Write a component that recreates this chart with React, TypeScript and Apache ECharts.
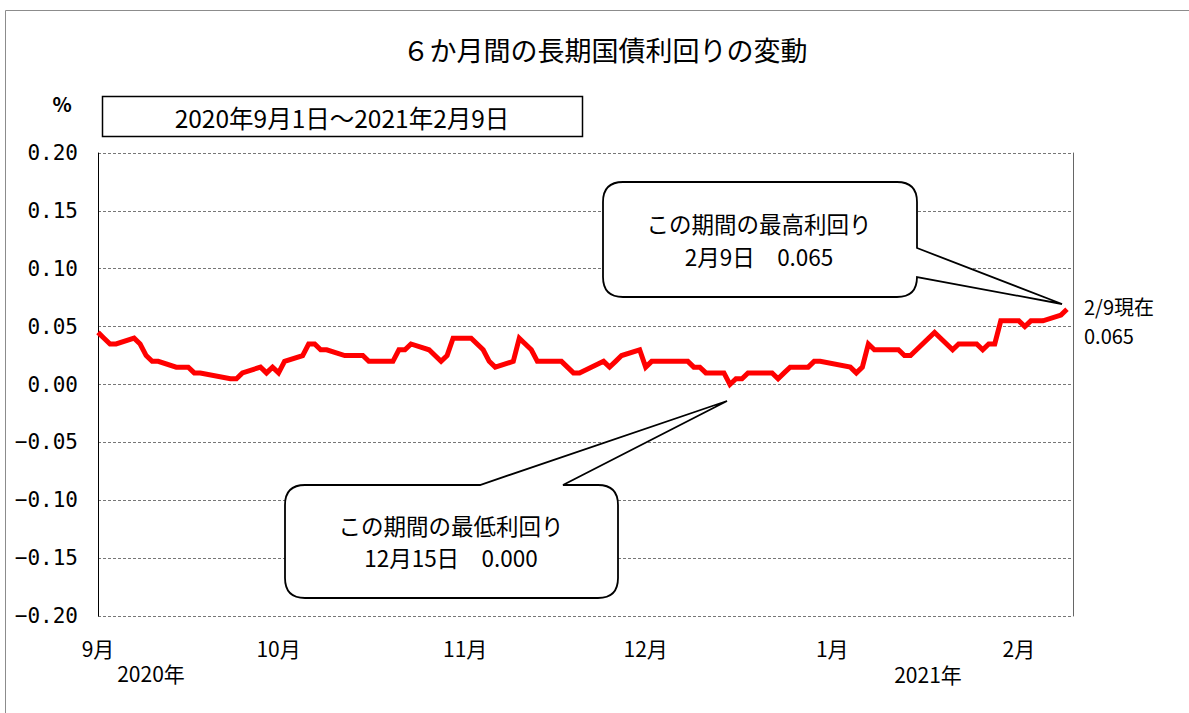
import React, { useEffect, useRef } from "react";
import * as echarts from "echarts";

const axisStart = "2020-09-01";
const axisEnd = "2021-02-10";
const monthLabels = ["9月", "10月", "11月", "12月", "1月", "2月"];
const yearLabels = ["2020年", "2021年"];
const titleText = "６か月間の長期国債利回りの変動";
const periodText = "2020年9月1日～2021年2月9日";

const tradeDates = [
  "2020-09-01", "2020-09-02", "2020-09-03", "2020-09-04", "2020-09-07", "2020-09-08", "2020-09-09", "2020-09-10", "2020-09-11",
  "2020-09-14", "2020-09-15", "2020-09-16", "2020-09-17", "2020-09-18", "2020-09-23", "2020-09-24", "2020-09-25",
  "2020-09-28", "2020-09-29", "2020-09-30",
  "2020-10-01", "2020-10-02", "2020-10-05", "2020-10-06", "2020-10-07", "2020-10-08", "2020-10-09",
  "2020-10-12", "2020-10-13", "2020-10-14", "2020-10-15", "2020-10-16", "2020-10-19", "2020-10-20", "2020-10-21",
  "2020-10-22", "2020-10-23", "2020-10-26", "2020-10-27", "2020-10-28", "2020-10-29", "2020-10-30",
  "2020-11-02", "2020-11-04", "2020-11-05", "2020-11-06", "2020-11-09", "2020-11-10", "2020-11-11", "2020-11-12",
  "2020-11-13", "2020-11-16", "2020-11-17", "2020-11-18", "2020-11-19", "2020-11-20", "2020-11-24", "2020-11-25",
  "2020-11-26", "2020-11-27", "2020-11-30",
  "2020-12-01", "2020-12-02", "2020-12-03", "2020-12-04", "2020-12-07", "2020-12-08", "2020-12-09", "2020-12-10",
  "2020-12-11", "2020-12-14", "2020-12-15", "2020-12-16", "2020-12-17", "2020-12-18", "2020-12-21", "2020-12-22",
  "2020-12-23", "2020-12-24", "2020-12-25", "2020-12-28", "2020-12-29", "2020-12-30",
  "2021-01-04", "2021-01-05", "2021-01-06", "2021-01-07", "2021-01-08", "2021-01-12", "2021-01-13", "2021-01-14",
  "2021-01-15", "2021-01-18", "2021-01-19", "2021-01-20", "2021-01-21", "2021-01-22", "2021-01-25", "2021-01-26",
  "2021-01-27", "2021-01-28", "2021-01-29",
  "2021-02-01", "2021-02-02", "2021-02-03", "2021-02-04", "2021-02-05", "2021-02-08", "2021-02-09",
];

const yields = [
  0.045, 0.040, 0.035, 0.035, 0.040, 0.035, 0.025, 0.020, 0.020,
  0.015, 0.015, 0.015, 0.010, 0.010, 0.005, 0.005, 0.010,
  0.015, 0.010, 0.015,
  0.010, 0.020, 0.025, 0.035, 0.035, 0.030, 0.030,
  0.025, 0.025, 0.025, 0.025, 0.020, 0.020, 0.020, 0.030,
  0.030, 0.035, 0.030, 0.025, 0.020, 0.025, 0.040,
  0.040, 0.030, 0.020, 0.015, 0.020, 0.040, 0.035, 0.030,
  0.020, 0.020, 0.020, 0.015, 0.010, 0.010, 0.020, 0.015,
  0.020, 0.025, 0.030,
  0.015, 0.020, 0.020, 0.020, 0.020, 0.020, 0.015, 0.015,
  0.010, 0.010, 0.000, 0.005, 0.005, 0.010, 0.010, 0.010,
  0.005, 0.010, 0.015, 0.015, 0.020, 0.020,
  0.015, 0.010, 0.015, 0.035, 0.030, 0.030, 0.025, 0.025,
  0.030, 0.045, 0.040, 0.035, 0.030, 0.035, 0.035, 0.030,
  0.035, 0.035, 0.055,
  0.055, 0.050, 0.055, 0.055, 0.055, 0.060, 0.065,
];

const yMin = -0.2;
const yMax = 0.2;
const yStep = 0.05;

const maxCallout = { title: "この期間の最高利回り", detail: "2月9日　0.065" };
const minCallout = { title: "この期間の最低利回り", detail: "12月15日　0.000" };
const lastLabel = ["2/9現在", "0.065"];

const JP = '"Noto Sans CJK JP", "Noto Sans", sans-serif';

// callout outlines (rounded box with pointer)
const topCalloutPath =
  "M 623 182 L 897 182 Q 917 182 917 202 L 917 248 L 1062 304 L 917 277 Q 917 297 897 297 L 623 297 Q 603 297 603 277 L 603 202 Q 603 182 623 182 Z";
const bottomCalloutPath =
  "M 305 485 L 480 485 L 727 401 L 563 485 L 598 485 Q 618 485 618 505 L 618 578 Q 618 598 598 598 L 305 598 Q 285 598 285 578 L 285 505 Q 285 485 305 485 Z";

echarts.graphic.registerShape("calloutTop", echarts.graphic.extendPath(topCalloutPath, {}));
echarts.graphic.registerShape("calloutBottom", echarts.graphic.extendPath(bottomCalloutPath, {}));

function buildCategories(): string[] {
  const out: string[] = [];
  const d = new Date(axisStart + "T00:00:00Z");
  const end = new Date(axisEnd + "T00:00:00Z");
  while (d.getTime() <= end.getTime()) {
    out.push(d.toISOString().slice(0, 10));
    d.setUTCDate(d.getUTCDate() + 1);
  }
  return out;
}

function fmtY(v: number): string {
  if (Math.abs(v) < 1e-9) return "0.00";
  return v < 0 ? "−" + (-v).toFixed(2) : v.toFixed(2);
}

export default function App() {
  const ref = useRef<HTMLDivElement>(null);

  useEffect(() => {
    if (!ref.current) return;
    const chart = echarts.init(ref.current, undefined, { renderer: "svg" });
    const categories = buildCategories();
    const monthStarts = categories.filter((c) => c.endsWith("-01"));
    const seriesData = tradeDates.map((d, i) => [categories.indexOf(d), yields[i]]);

    const text = (x: number, y: number, t: string, size: number, align = "center", extra: any = {}) => ({
      type: "text",
      x,
      y,
      z: 120,
      silent: true,
      style: {
        text: t,
        fill: "#000",
        fontSize: size,
        fontFamily: JP,
        align,
        verticalAlign: "middle",
        ...extra,
      },
    });

    chart.setOption({
      animation: false,
      backgroundColor: "#fff",
      grid: { left: 98, right: 116, top: 153, bottom: 97, containLabel: false },
      xAxis: {
        type: "category",
        data: categories,
        boundaryGap: false,
        axisLine: { show: false },
        axisTick: { show: false },
        splitLine: { show: false },
        axisLabel: {
          interval: (_i: number, v: string) => v.endsWith("-01"),
          formatter: (v: string) => {
            const k = monthStarts.indexOf(v);
            return k >= 0 ? monthLabels[k] : "";
          },
          margin: 21,
          color: "#000",
          fontSize: 21,
          fontFamily: JP,
        },
      },
      yAxis: [
        {
          type: "value",
          min: yMin,
          max: yMax,
          interval: yStep,
          axisLine: { show: true, lineStyle: { color: "#000", width: 1 } },
          axisTick: { show: false },
          axisLabel: {
            formatter: fmtY,
            margin: 20,
            color: "#000",
            fontSize: 21,
            fontFamily: '"DejaVu Sans Mono", monospace',
          },
          splitLine: { show: true, lineStyle: { color: "#777", width: 1, type: [3, 2] } },
        },
        {
          type: "value",
          min: yMin,
          max: yMax,
          interval: yStep,
          position: "right",
          axisLine: { show: true, lineStyle: { color: "#666", width: 1 } },
          axisTick: { show: false },
          axisLabel: { show: false },
          splitLine: { show: false },
        },
      ],
      series: [
        {
          type: "line",
          data: seriesData,
          showSymbol: false,
          symbol: "none",
          lineStyle: { color: "#ff0000", width: 5, join: "miter" },
          z: 5,
        },
      ],
      graphic: [
        {
          type: "rect",
          z: 0,
          silent: true,
          shape: { x: 5.5, y: 10.5, width: 1200, height: 720 },
          style: { fill: "none", stroke: "#8c8c8c", lineWidth: 1 },
        },
        text(605, 49, titleText, 27),
        text(62, 103, "%", 20, "center", { fontWeight: "bold" }),
        {
          type: "rect",
          z: 110,
          silent: true,
          shape: { x: 102.5, y: 96.5, width: 480, height: 40 },
          style: { fill: "#fff", stroke: "#000", lineWidth: 1.5 },
        },
        text(342, 117, periodText, 24.5),
        {
          type: "calloutTop",
          z: 110,
          silent: true,
          style: { fill: "#fff", stroke: "#000", lineWidth: 1.8 },
        },
        text(759, 223, maxCallout.title, 22.5),
        text(759, 256, maxCallout.detail, 22.5),
        {
          type: "calloutBottom",
          z: 110,
          silent: true,
          style: { fill: "#fff", stroke: "#000", lineWidth: 1.8 },
        },
        text(451, 525, minCallout.title, 22.5),
        text(451, 557, minCallout.detail, 22.5),
        text(1084, 306, lastLabel[0], 20, "left"),
        text(1084, 335, lastLabel[1], 20, "left"),
        text(151, 673, yearLabels[0], 21),
        text(928, 674, yearLabels[1], 21),
      ],
    });

    return () => chart.dispose();
  }, []);

  return (
    <div
      ref={ref}
      style={{ position: "fixed", left: 0, top: 0, width: 1189, height: 713, background: "#fff" }}
    />
  );
}
